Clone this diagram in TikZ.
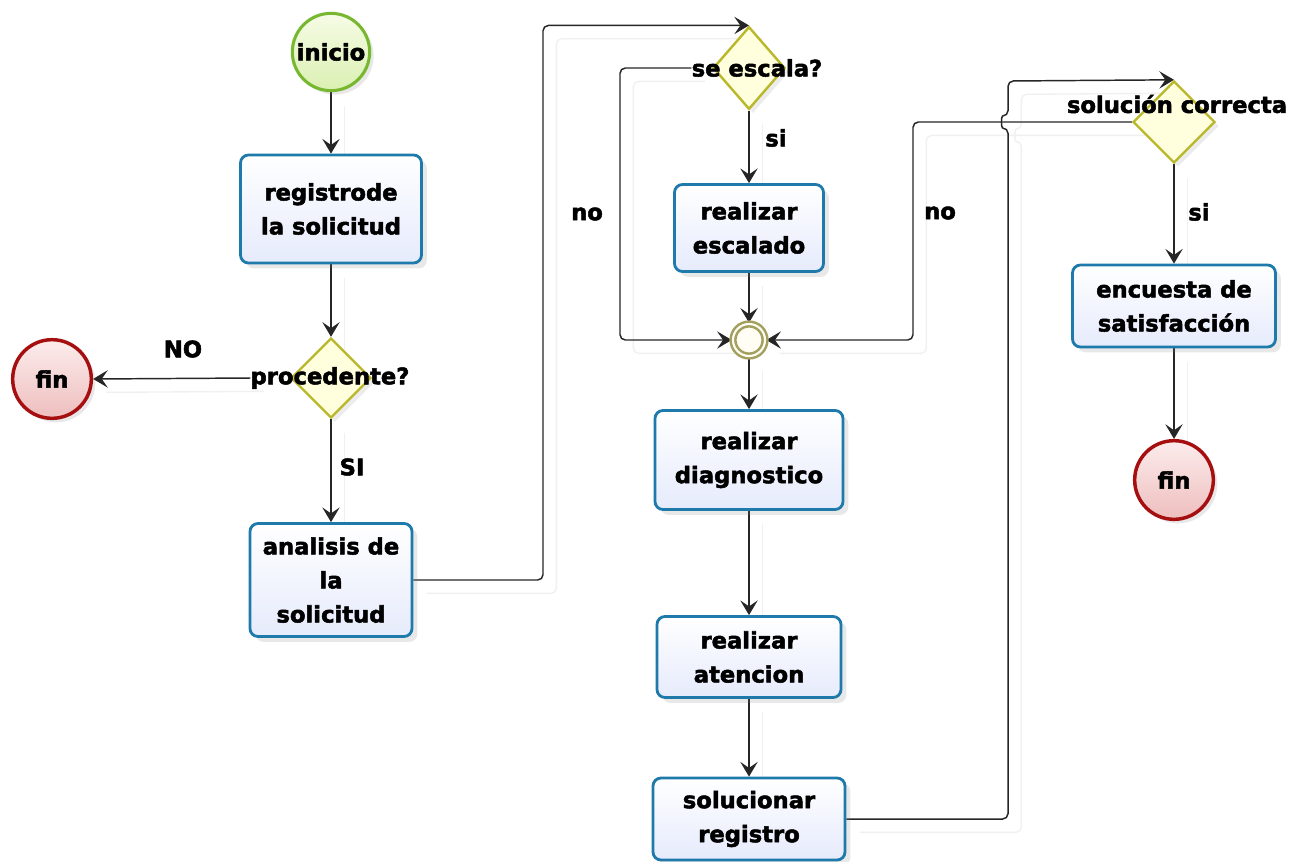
\documentclass[tikz,border=0pt]{standalone}
\usepackage{fontspec}
\setmainfont{DejaVu Sans}[BoldFeatures={FakeBold=2.2}]
\usetikzlibrary{arrows.meta,shapes.geometric,shadows,backgrounds}
\definecolor{boxb}{RGB}{30,122,170}
\definecolor{boxfill}{RGB}{230,235,252}
\definecolor{startb}{RGB}{120,184,48}
\definecolor{starttop}{RGB}{246,252,230}
\definecolor{startbot}{RGB}{218,240,178}
\definecolor{endb}{RGB}{165,15,15}
\definecolor{endtop}{RGB}{252,236,236}
\definecolor{endbot}{RGB}{238,190,190}
\definecolor{gateb}{RGB}{185,184,42}
\definecolor{gatefill}{RGB}{255,255,222}
\definecolor{mergeb}{RGB}{163,159,94}
\definecolor{mergefill}{RGB}{255,253,244}
\tikzset{flowtip/.tip={Stealth[length=11pt,width=13pt,inset=4.5pt]}}
\begin{document}
\begin{tikzpicture}[x=0.75pt,y=-0.75pt,
  font=\fontsize{17}{25.5}\selectfont\bfseries,
  task/.style={rectangle, rounded corners=6pt, draw=boxb, line width=2.1pt,
    top color=white, bottom color=boxfill, align=center, inner sep=0pt,
    drop shadow={opacity=0.18, shadow xshift=4pt, shadow yshift=-4pt}},
  startev/.style={circle, draw=startb, line width=2.3pt, minimum size=58pt, inner sep=0pt,
    top color=starttop, bottom color=startbot,
    drop shadow={opacity=0.18, shadow xshift=3pt, shadow yshift=-3pt}},
  endev/.style={circle, draw=endb, line width=2.6pt, minimum size=59pt, inner sep=0pt,
    top color=endtop, bottom color=endbot,
    drop shadow={opacity=0.18, shadow xshift=3pt, shadow yshift=-3pt}},
  gate/.style={diamond, draw=gateb, line width=1.8pt, fill=gatefill, inner sep=0pt,
    minimum width=60pt, minimum height=60pt,
    drop shadow={opacity=0.15, shadow xshift=3pt, shadow yshift=-3pt}},
  merge/.style={circle, draw=mergeb, line width=1.9pt, double=mergefill, double distance=1.6pt,
    fill=mergefill, minimum size=24pt, inner sep=0pt},
  lbl/.style={inner sep=0pt},
  shadowline/.style={draw=black!6, line width=1pt, transform canvas={shift={(10pt,-10pt)}}},
  flow/.style={draw=black!85, line width=1.1pt, rounded corners=4pt, -flowtip}
]
\useasboundingbox (0,0) rectangle (1301,861);

% nodes
\node[startev] (ini) at (331,52) {inicio};
\node[task, minimum width=135.75pt, minimum height=81pt] (reg) at (331,209) {registrode\\la solicitud};
\node[gate] (proc) at (331,378) {};
\node[lbl] (proct) at (330,378) {procedente?};
\node[endev] (fin1) at (52,379) {fin};
\node[task, minimum width=121.5pt, minimum height=84.75pt] (ana) at (331,580) {analisis de\\la\\solicitud};

\node[gate, minimum width=54pt, minimum height=62pt] (escd) at (749,68) {};
\node[lbl] (escdt) at (757,68) {se escala?};
\node[task, minimum width=111.75pt, minimum height=65.25pt] (esc) at (749,228) {realizar\\escalado};
\node[merge] (mrg) at (749,340) {};
\node[task, minimum width=141pt, minimum height=74.25pt] (diag) at (749,460) {realizar\\diagnostico};
\node[task, minimum width=138pt, minimum height=60.75pt] (aten) at (749,657) {realizar\\atencion};
\node[task, minimum width=144pt, minimum height=61.5pt] (sol) at (749,819) {solucionar\\registro};

\node[gate, minimum width=61.5pt, minimum height=61.5pt] (solc) at (1174,122) {};
\node[lbl] (solct) at (1177,104) {solución correcta};
\node[task, minimum width=152.25pt, minimum height=61.5pt] (enc) at (1174,306) {encuesta de\\satisfacción};
\node[endev] (fin2) at (1174,480) {fin};

% edge labels
\node[lbl] (lno1) at (183,349) {NO};
\node[lbl] (lsi1) at (352,467) {SI};
\node[lbl] (lno2) at (587,214) {no};
\node[lbl] (lsi2) at (776,138) {si};
\node[lbl] (lno3) at (940,213) {no};
\node[lbl] (lsi3) at (1199,212) {si};

% connectors
\begin{scope}[on background layer]
\fill[white] (0,0) rectangle (1301,861);
\foreach \st in {shadowline, flow}{
\draw[\st] (ini.south) -- (reg.north);
\draw[\st] (reg.south) -- (proc.north);
\draw[\st] (proct.west) -- (fin1.east);
\draw[\st] (proc.south) -- (ana.north);
\draw[\st, rounded corners=4pt] (ana.east) -- (543,580) |- (escd.north);
\draw[\st, rounded corners=4pt] (escdt.west) -- (620,68) |- (mrg.west);
\draw[\st] (escd.south) -- (esc.north);
\draw[\st] (esc.south) -- (mrg.north);
\draw[\st] (mrg.south) -- (diag.north);
\draw[\st] (diag.south) -- (aten.north);
\draw[\st] (aten.south) -- (sol.north);
\draw[\st, rounded corners=4pt] (sol.east) -- (1008,819) -- (1008,128)
   .. controls (1001,128) and (1001,116) .. (1008,116) -- (1008,81) -- (solc.north);
\draw[\st, rounded corners=4pt] (solc.west) -- (913,122) |- (mrg.east);
\draw[\st] (solc.south) -- (enc.north);
\draw[\st] (enc.south) -- (fin2.north);
}
\end{scope}
\end{tikzpicture}
\end{document}
